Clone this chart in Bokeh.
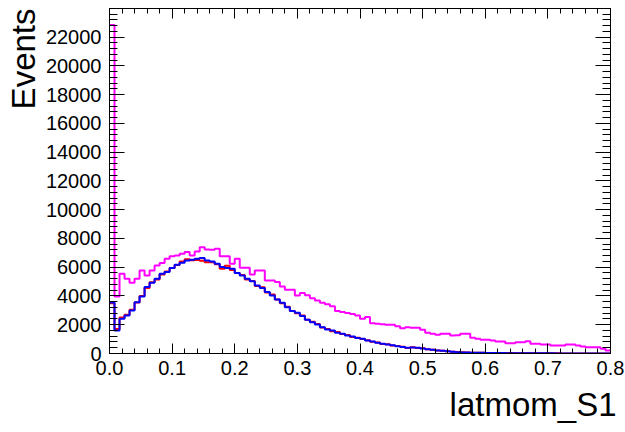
import numpy as np
from bokeh.plotting import figure
from bokeh.models import Range1d, SingleIntervalTicker, LinearAxis, PrintfTickFormatter, Title
from bokeh.embed import file_html
from bokeh.resources import INLINE

# ---- data ----
x_low, x_high, n_bins = 0.0, 0.8, 100
y_top = 23990
x_title = "latmom_S1"
y_title = "Events"

magenta_counts = [
    22850, 3970, 5545, 5200, 4920, 5200, 5780, 5430, 5780, 6125,
    6290, 6590, 6770, 6820, 6940, 7050, 6820, 7100, 7380, 7240,
    7215, 7285, 6770, 6770, 6240, 6590, 5960, 5960, 5500, 5780,
    5780, 5080, 5080, 4965, 4660, 4430, 4430, 4040, 4200, 4050,
    3850, 3690, 3530, 3430, 3290, 2950, 2880, 2810, 2740, 2645,
    2410, 2530, 2110, 2065, 2040, 2000, 2000, 1900, 1760, 1830,
    1790, 1790, 1650, 1440, 1370, 1300, 1370, 1370, 1250, 1270,
    1370, 1370, 1090, 1020, 950, 950, 905, 835, 835, 720,
    720, 790, 790, 860, 670, 670, 625, 625, 555, 555,
    555, 625, 625, 555, 490, 440, 440, 440, 325, 210,
]

red_counts = [
    3500, 1700, 2500, 2700, 3050, 3550, 4000, 4550, 4950, 5150,
    5500, 5700, 5950, 6150, 6400, 6550, 6480, 6500, 6450, 6350,
    6350, 6200, 5900, 6100, 5800, 5600, 5450, 5150, 5050, 4700,
    4600, 4250, 4100, 3750, 3500, 3250, 2950, 2800, 2650, 2350,
    2200, 2050, 1800, 1700, 1550, 1500, 1350, 1280, 1150, 1100,
    1000, 920, 820, 760, 660, 640, 560, 520, 470, 380,
    430, 380, 360, 290, 260, 200, 190, 150, 120, 100,
    80, 70, 60, 50, 50, 40, 40, 30, 35, 40,
    30, 20, 20, 15, 20, 15, 25, 20, 10, 10,
    8, 6, 6, 5, 5, 4, 4, 3, 3, 2,
]

blue_counts = [
    3550, 1600, 2410, 2645, 2990, 3570, 3970, 4620, 4920, 5200,
    5545, 5660, 5940, 6170, 6310, 6470, 6520, 6590, 6635, 6470,
    6400, 6240, 6010, 5940, 5890, 5590, 5430, 5200, 5030, 4730,
    4550, 4270, 4040, 3760, 3530, 3220, 2950, 2830, 2600, 2340,
    2180, 2020, 1830, 1670, 1600, 1440, 1370, 1250, 1180, 1070,
    1020, 900, 835, 740, 670, 625, 580, 510, 460, 395,
    420, 395, 350, 300, 255, 210, 185, 165, 115, 95,
    70, 65, 55, 50, 45, 40, 35, 30, 30, 25,
    25, 20, 20, 15, 15, 15, 10, 10, 10, 8,
    8, 6, 6, 5, 5, 4, 4, 3, 3, 2,
]

series = [
    (magenta_counts, "#ff00ff"),
    (red_counts, "#ff0000"),
    (blue_counts, "#0000ff"),
]

edges = np.linspace(x_low, x_high, n_bins + 1)

FONT = "Liberation Sans"

p = figure(width=625, height=432, output_backend="svg", toolbar_location=None,
           x_range=Range1d(x_low, x_high), y_range=Range1d(0, y_top),
           min_border_left=109, min_border_right=15, min_border_top=8,
           min_border_bottom=79, background_fill_color="white",
           border_fill_color="white")
p.outline_line_color = "black"
p.outline_line_width = 1
p.xgrid.visible = False
p.ygrid.visible = False

for counts, color in series:
    yv = np.append(np.asarray(counts, dtype=float), counts[-1])
    p.step(x=edges, y=yv, mode="after", line_color=color, line_width=2)

xticker = SingleIntervalTicker(interval=0.1, num_minor_ticks=5)
yticker = SingleIntervalTicker(interval=2000, num_minor_ticks=5)


def style(ax, tin, minor_in, labels=True, standoff=8):
    ax.major_tick_in = tin
    ax.major_tick_out = 0
    ax.minor_tick_in = minor_in
    ax.minor_tick_out = 0
    ax.axis_line_color = "black"
    ax.major_tick_line_color = "black"
    ax.minor_tick_line_color = "black"
    ax.major_label_text_font = FONT
    ax.major_label_text_color = "black"
    if labels:
        ax.major_label_text_font_size = "20px"
        ax.major_label_standoff = standoff
    else:
        ax.major_label_text_font_size = "0px"
        ax.major_label_standoff = 0


xa = p.xaxis[0]
xa.ticker = xticker
xa.formatter = PrintfTickFormatter(format="%.1f")
style(xa, 10, 5, standoff=7)

ya = p.yaxis[0]
ya.ticker = yticker
ya.formatter = PrintfTickFormatter(format="%d")
style(ya, 15, 8, standoff=8)

ra = LinearAxis(ticker=yticker)
style(ra, 15, 8, labels=False)
p.add_layout(ra, "right")

ta = LinearAxis(ticker=xticker)
style(ta, 10, 5, labels=False)
p.add_layout(ta, "above")

p.add_layout(Title(text=y_title, align="right", text_font=FONT, text_font_size="33px",
                   text_font_style="normal", text_color="black", standoff=1), "left")
p.add_layout(Title(text=x_title, align="right", text_font=FONT, text_font_size="33px",
                   text_font_style="normal", text_color="black", standoff=12,
                   offset=-6), "below")

open("out.html", "w").write(file_html(p, INLINE))
